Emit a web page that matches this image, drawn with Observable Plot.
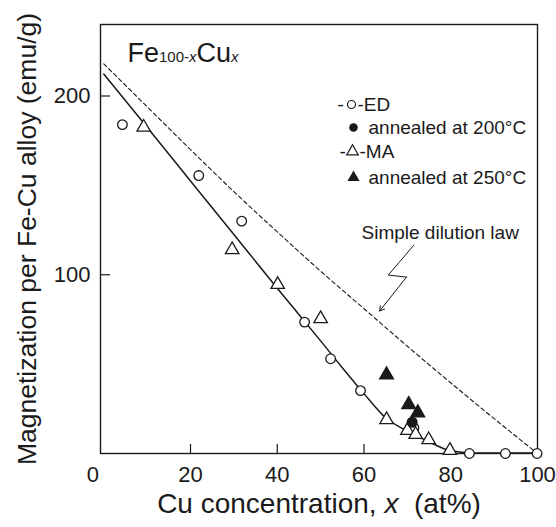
<!DOCTYPE html>
<html><head><meta charset="utf-8">
<script src="https://cdn.jsdelivr.net/npm/d3@7"></script>
<script src="https://cdn.jsdelivr.net/npm/@observablehq/plot@0.6"></script>
<style>body{margin:0;background:#fff}</style>
</head><body><div id="chart"></div>
<script>
// ED (electrodeposited) samples, open circles
const edCu  = [4.3, 21.9, 31.8, 46.3, 52.3, 59.2, 71.5, 84.3, 92.6, 99.9];
const edMag = [184, 155.5, 130, 73.5, 53, 35.2, 14.3, 0, 0, 0];
// ED annealed at 200°C, filled circle
const ed200Cu  = [71.1];
const ed200Mag = [17.5];
// MA (mechanically alloyed) samples, open triangles
const maCu  = [9.2, 29.6, 40.1, 50.0, 65.2, 70.0, 71.9, 74.9, 79.8];
const maMag = [182.5, 114, 94.5, 75.4, 18.9, 12.9, 10.6, 7.7, 1.7];
// MA annealed at 250°C, filled triangles
const ma250Cu  = [65.2, 70.3, 72.4];
const ma250Mag = [44, 27.4, 22.8];
// solid guide curve through the data
const fitCu  = [0, 10, 20, 30, 40, 50, 55, 60, 65, 70, 75, 80, 85, 100];
const fitMag = [212.3, 182.5, 152.5, 122.5, 92.5, 63, 48, 33.5, 20, 12.5, 6.5, 1.5, 0.3, 0.3];
// simple dilution law (dashed)
const dilCu  = [0, 10, 20, 30, 40, 50, 60, 70, 80, 90, 100];
const dilMag = [218, 194, 170, 146.5, 124, 102, 81, 60, 39.5, 19.5, 0];
// pointer for the "Simple dilution law" annotation (data units)
const pointerCu  = [71.5, 65.6, 69.8];
const pointerMag = [116.6, 99.8, 98.7];
const pointerTip = {x: 63.6, y: 79.7};
// ticks
const xTickLabels = [0, 20, 40, 60, 80, 100];
const xTickMarks  = [20, 40, 60, 80];
const yTickLabels = [100, 200];

const zip = (xs, ys) => xs.map((x, i) => ({x, y: ys[i]}));
const ed = zip(edCu, edMag), ed200 = zip(ed200Cu, ed200Mag);
const ma = zip(maCu, maMag), ma250 = zip(ma250Cu, ma250Mag);
const fit = zip(fitCu, fitMag), dil = zip(dilCu, dilMag);
const pointer = zip(pointerCu, pointerMag);

const ink = "#1a1a1a";
const font = "'Liberation Sans', Arial, Helvetica, sans-serif";
const W = 556, H = 527, mL = 100, mR = 19, mT = 24, mB = 74;

const chart = Plot.plot({
  width: W, height: H,
  marginLeft: mL, marginRight: mR, marginTop: mT, marginBottom: mB,
  style: {fontFamily: font, color: ink, background: "white"},
  x: {domain: [-0.75, 100], label: null},
  y: {domain: [0, 240], label: null},
  marks: [
    Plot.frame({stroke: ink, strokeWidth: 1.4}),
    // inward tick marks
    Plot.tickX(xTickMarks, {x: d => d, stroke: ink, strokeWidth: 1.2, insetTop: (H - mT - mB) - 9}),
    Plot.tickY(yTickLabels, {y: d => d, stroke: ink, strokeWidth: 1.2, insetRight: (W - mL - mR) - 10}),
    Plot.line(dil, {x: "x", y: "y", stroke: ink, strokeWidth: 1.1, strokeDasharray: "4,3", curve: "monotone-x"}),
    Plot.line(fit, {x: "x", y: "y", stroke: ink, strokeWidth: 1.5, curve: "monotone-x"}),
    Plot.dot(ed, {x: "x", y: "y", symbol: "circle", r: 4.8, stroke: ink, fill: "white", strokeWidth: 1.3}),
    Plot.dot(ma, {x: "x", y: "y", symbol: "triangle", r: 5, stroke: ink, fill: "white", strokeWidth: 1.3}),
    Plot.dot(ed200, {x: "x", y: "y", symbol: "circle", r: 4.8, fill: ink, stroke: ink}),
    Plot.dot(ma250, {x: "x", y: "y", symbol: "triangle", r: 5, fill: ink, stroke: ink}),
    // axis labels
    Plot.axisX(xTickLabels.filter(v => v > 0), {tickSize: 0, tickPadding: 13, fontSize: 22}),
    Plot.text(xTickLabels.filter(v => v === 0), {x: d => d, frameAnchor: "bottom", dy: 13, dx: -11, lineAnchor: "top", fontSize: 22, fill: ink}),
    Plot.axisY(yTickLabels, {tickSize: 0, tickPadding: 10, fontSize: 22}),
    // titles
    Plot.text(["Cu concentration, x (at%)"], {text: d => d, frameAnchor: "bottom", dy: 59, lineAnchor: "bottom", textAnchor: "middle", fontSize: 28, fill: ink}),
    Plot.text(["Magnetization per Fe-Cu alloy (emu/g)"], {text: d => d, frameAnchor: "left", dx: -65, rotate: -90, lineAnchor: "bottom", textAnchor: "middle", fontSize: 26.5, fill: ink}),
    Plot.text(["Fe100-xCux"], {text: d => d, frameAnchor: "top-left", dx: 27, dy: 37, lineAnchor: "bottom", textAnchor: "start", fontSize: 27, fill: ink}),
    // legend
    Plot.text(["-"], {text: d => d, frameAnchor: "top-left", dx: 237, dy: 80, textAnchor: "start", lineAnchor: "middle", fontSize: 19, fill: ink}),
    Plot.dot([0], {frameAnchor: "top-left", dx: 251, dy: 80, symbol: "circle", r: 4, stroke: ink, fill: "white", strokeWidth: 1.2}),
    Plot.text(["-ED"], {text: d => d, frameAnchor: "top-left", dx: 257, dy: 80, textAnchor: "start", lineAnchor: "middle", fontSize: 19, fill: ink}),
    Plot.dot([0], {frameAnchor: "top-left", dx: 253, dy: 103, symbol: "circle", r: 4.3, fill: ink}),
    Plot.text(["annealed at 200°C"], {text: d => d, frameAnchor: "top-left", dx: 268, dy: 103, textAnchor: "start", lineAnchor: "middle", fontSize: 19, fill: ink}),
    Plot.text(["-"], {text: d => d, frameAnchor: "top-left", dx: 239, dy: 127, textAnchor: "start", lineAnchor: "middle", fontSize: 19, fill: ink}),
    Plot.dot([0], {frameAnchor: "top-left", dx: 252, dy: 127, symbol: "triangle", r: 4.3, stroke: ink, fill: "white", strokeWidth: 1.2}),
    Plot.text(["-MA"], {text: d => d, frameAnchor: "top-left", dx: 259, dy: 127, textAnchor: "start", lineAnchor: "middle", fontSize: 19, fill: ink}),
    Plot.dot([0], {frameAnchor: "top-left", dx: 253, dy: 153, symbol: "triangle", r: 4.5, fill: ink}),
    Plot.text(["annealed at 250°C"], {text: d => d, frameAnchor: "top-left", dx: 268, dy: 153, textAnchor: "start", lineAnchor: "middle", fontSize: 19, fill: ink}),
    Plot.text(["Simple dilution law"], {text: d => d, frameAnchor: "top-left", dx: 261, dy: 208, textAnchor: "start", lineAnchor: "middle", fontSize: 19, fill: ink}),
    Plot.line(pointer, {x: "x", y: "y", stroke: ink, strokeWidth: 1}),
    Plot.arrow([{x1: pointerCu[2], y1: pointerMag[2], x2: pointerTip.x, y2: pointerTip.y}], {x1: "x1", y1: "y1", x2: "x2", y2: "y2", stroke: ink, strokeWidth: 1, headLength: 8})
  ]
});
document.getElementById("chart").appendChild(chart);

// rich text: subscripts / italics
const svg = d3.select(chart);
svg.selectAll("text").filter(function() { return this.textContent === "Fe100-xCux"; }).each(function() {
  const t = d3.select(this); t.text(null);
  t.append("tspan").text("Fe");
  t.append("tspan").attr("font-size", 15).text("100-");
  t.append("tspan").attr("font-size", 15).attr("font-style", "italic").text("x");
  t.append("tspan").text("Cu");
  t.append("tspan").attr("font-size", 15).attr("font-style", "italic").text("x");
});
svg.selectAll("text").filter(function() { return this.textContent === "Cu concentration, x (at%)"; }).each(function() {
  const t = d3.select(this); t.text(null);
  t.append("tspan").text("Cu concentration, ");
  t.append("tspan").attr("font-style", "italic").text("x");
  t.append("tspan").text("\u00a0 (at%)");
});
</script>
</body></html>
